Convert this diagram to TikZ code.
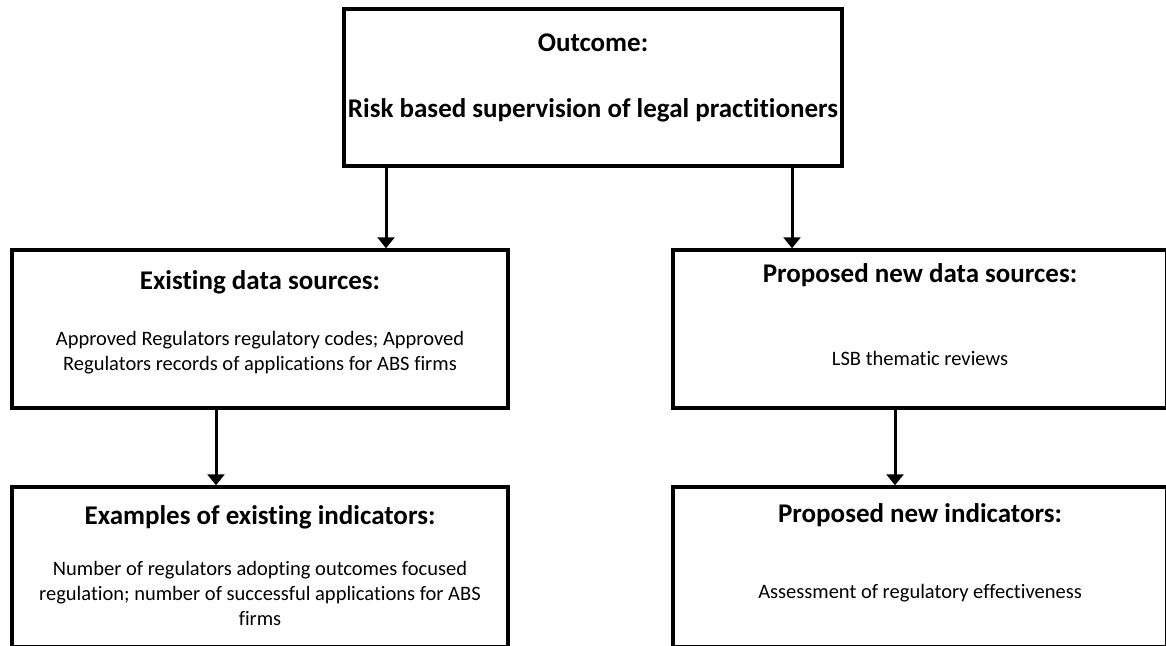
\documentclass[tikz,border=0pt]{standalone}
\usepackage{fontspec}
\setmainfont{Carlito}[Ligatures=NoCommon]
\usetikzlibrary{arrows.meta}

\begin{document}
\begin{tikzpicture}[x=1pt, y=-1pt,
  box/.style={draw, line width=3.5pt, rectangle, inner sep=0pt},
  head/.style={font=\bfseries\fontsize{27}{32}\selectfont, inner sep=0pt},
  body/.style={font=\fontsize{20.5}{25}\selectfont, align=center, inner sep=0pt},
  arr/.style={line width=3pt, -{Triangle[width=17pt,length=11pt]}}]
  \useasboundingbox (0,0) rectangle (1166,645);
  \clip (0,0) rectangle (1166,645);

  % boxes
  \node[box, minimum width=498, minimum height=157] (top) at (593,87.5) {};
  \node[box, minimum width=496, minimum height=158] (ex) at (260,329) {};
  \node[box, minimum width=494, minimum height=158] (pr) at (920,329) {};
  \node[box, minimum width=496, minimum height=160] (exi) at (260,567) {};
  \node[box, minimum width=494, minimum height=160] (pri) at (920,567) {};

  % texts
  \node[head] (t1) at (593,43) {Outcome:};
  \node[head] (t2) at (593,110) {Risk based supervision of legal practitioners};
  \node[head] (h1) at (260,282) {Existing data sources:};
  \node[body] (b1) at (260,353) {Approved Regulators regulatory codes; Approved\\Regulators records of applications for ABS firms};
  \node[head] (h2) at (920,275) {Proposed new data sources:};
  \node[body] (b2) at (920,358) {LSB thematic reviews};
  \node[head] (h3) at (260,517) {Examples of existing indicators:};
  \node[body] (b3) at (260,593) {Number of regulators adopting outcomes focused\\regulation; number of successful applications for ABS\\firms};
  \node[head] (h4) at (920,515) {Proposed new indicators:};
  \node[body] (b4) at (920,593) {Assessment of regulatory effectiveness};

  % connectors
  \draw[arr] (386,0 |- top.south) -- (386,0 |- ex.north);
  \draw[arr] (792,0 |- top.south) -- (792,0 |- pr.north);
  \draw[arr] (216,0 |- ex.south) -- (216,0 |- exi.north);
  \draw[arr] (895,0 |- pr.south) -- (895,0 |- pri.north);
\end{tikzpicture}
\end{document}
